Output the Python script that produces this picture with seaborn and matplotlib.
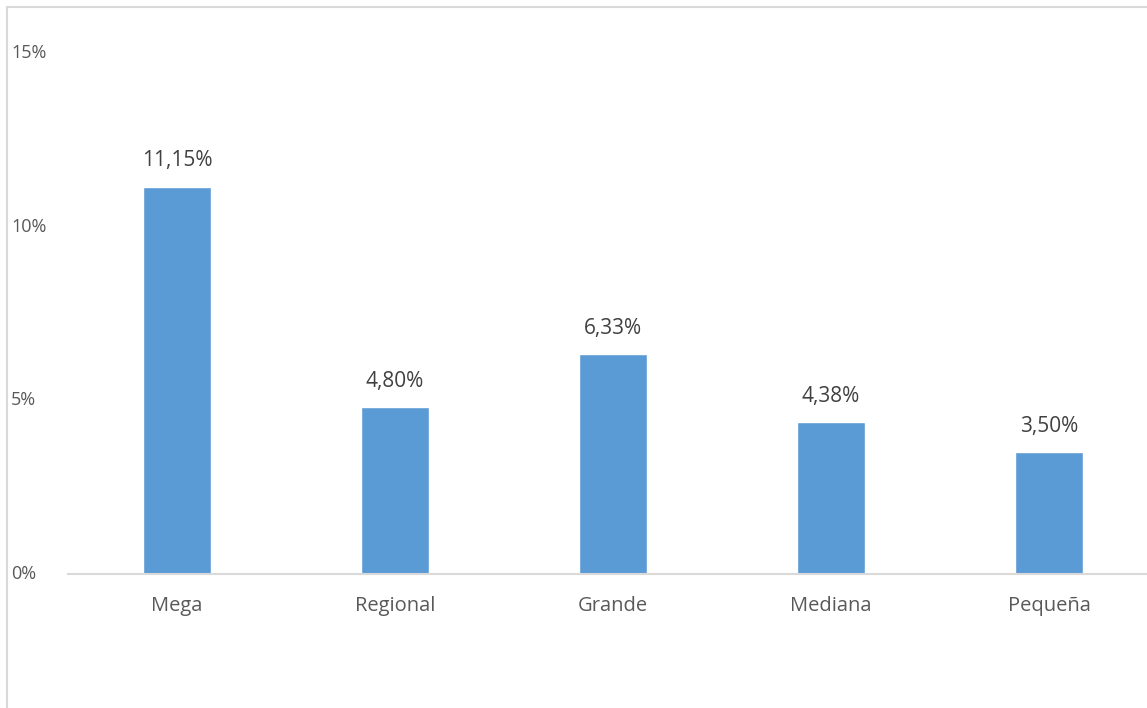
import matplotlib
matplotlib.use("Agg")
import matplotlib.pyplot as plt
import matplotlib.patches as mpatches
import matplotlib.transforms as mtransforms
import seaborn as sns
import pandas as pd

categories = ["Mega", "Regional", "Grande", "Mediana", "Pequeña"]
values = [11.15, 4.80, 6.33, 4.38, 3.50]
yticks = [0, 5, 10, 15]
ytick_labels = ["0%", "5%", "10%", "15%"]

data = pd.DataFrame({"cat": categories, "val": values})

sns.set_style("white")
plt.rcParams["font.family"] = ["Open Sans", "DejaVu Sans"]

fig = plt.figure(figsize=(11.47, 7.08), dpi=100)
ax = fig.add_axes([68 / 1147, 134 / 708, 1090 / 1147, 521 / 708])

sns.barplot(data=data, x="cat", y="val", color="#5B9BD5", saturation=1,
            width=0.31, ax=ax)

ax.set_ylim(0, 15)
ax.set_xlim(-0.5, len(categories) - 0.5)
for s in ["top", "right", "left"]:
    ax.spines[s].set_visible(False)
ax.spines["bottom"].set_color("#D9D9D9")
ax.spines["bottom"].set_linewidth(1.5)
ax.set_xlabel("")
ax.set_ylabel("")
ax.tick_params(axis="x", length=0, pad=16, labelsize=14.5, labelcolor="#595959")

# y tick labels, left aligned near the chart edge
ax.set_yticks(yticks)
ax.set_yticklabels([])
ax.tick_params(axis="y", length=0)
trans = mtransforms.blended_transform_factory(fig.transFigure, ax.transData)
for t, lab in zip(yticks, ytick_labels):
    ax.text(11 / 1147, t, lab, transform=trans, ha="left", va="center",
            fontsize=13, color="#595959", clip_on=False)

# value labels
for i, v in enumerate(values):
    ax.annotate(f"{v:.2f}%".replace(".", ","), (i, v), xytext=(0, 11),
                textcoords="offset points", ha="center", va="bottom",
                fontsize=15, color="#404040")

# chart border
fig.patches.append(mpatches.Rectangle((7 / 1147, -0.1), 1.2, (701 / 708) + 0.1,
                                      transform=fig.transFigure, fill=False,
                                      edgecolor="#D9D9D9", linewidth=1.5))

fig.savefig("out.png", dpi=100)
